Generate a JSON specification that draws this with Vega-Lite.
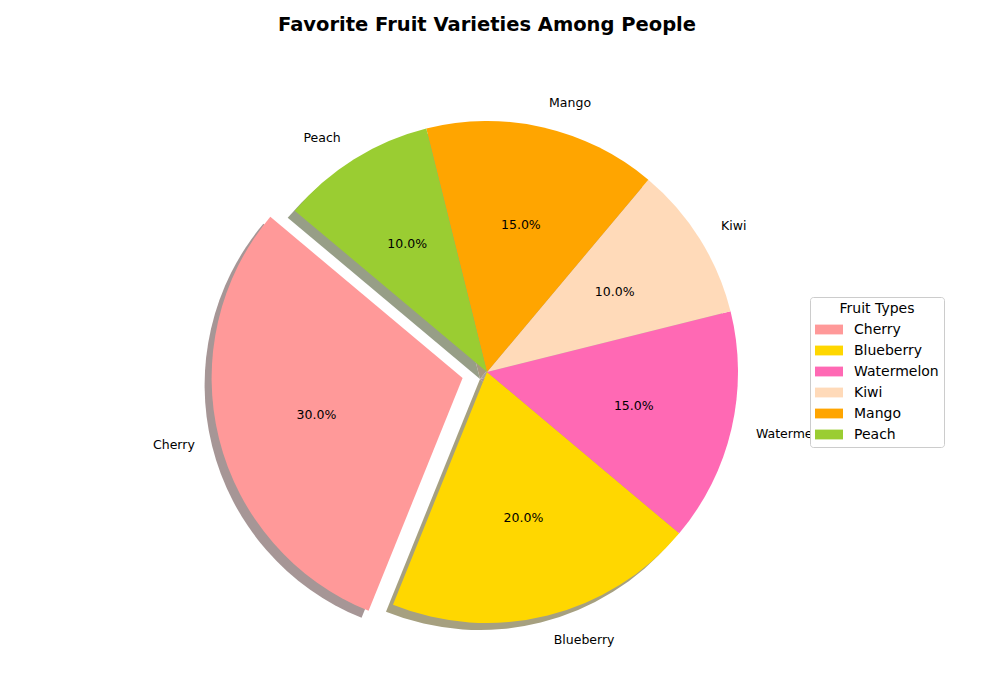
{
  "$schema": "https://vega.github.io/schema/vega-lite/v6.json",
  "width": 502,
  "height": 502,
  "autosize": {"type": "none"},
  "padding": {"left": 236, "top": 121, "right": 262, "bottom": 77},
  "background": "white",
  "config": {"view": {"stroke": null}, "font": "DejaVu Sans"},
  "title": {
    "text": "Favorite Fruit Varieties Among People",
    "fontSize": 19.5,
    "fontWeight": "bold",
    "font": "DejaVu Sans",
    "color": "black",
    "frame": "group",
    "anchor": "middle",
    "offset": 62
  },
  "data": {
    "values": [
      {"fruit": "Cherry", "share": 30, "idx": 1, "pct": "30.0%"},
      {"fruit": "Blueberry", "share": 20, "idx": 2, "pct": "20.0%"},
      {"fruit": "Watermelon", "share": 15, "idx": 3, "pct": "15.0%"},
      {"fruit": "Kiwi", "share": 10, "idx": 4, "pct": "10.0%"},
      {"fruit": "Mango", "share": 15, "idx": 5, "pct": "15.0%"},
      {"fruit": "Peach", "share": 10, "idx": 6, "pct": "10.0%"}
    ]
  },
  "encoding": {
    "theta": {"field": "share", "type": "quantitative", "stack": true, "scale": {"range": [-0.87266, 5.41052]}},
    "order": {"field": "idx", "type": "quantitative", "sort": "descending"}
  },
  "layer": [
    {
      "mark": {
        "type": "arc",
        "outerRadius": 251,
        "xOffset": {"expr": "datum.fruit == 'Cherry' ? -31.4 : -7"},
        "yOffset": {"expr": "datum.fruit == 'Cherry' ? 13.1 : 7"}
      },
      "encoding": {
        "color": {
          "field": "fruit",
          "type": "nominal",
          "legend": null,
          "scale": {
            "domain": ["Cherry", "Blueberry", "Watermelon", "Kiwi", "Mango", "Peach"],
            "range": ["#A69696", "#A6A080", "#A68F9B", "#A6A09B", "#A69880", "#979E87"]
          }
        }
      }
    },
    {
      "mark": {
        "type": "arc",
        "outerRadius": 251,
        "xOffset": {"expr": "datum.fruit == 'Cherry' ? -24.4 : 0"},
        "yOffset": {"expr": "datum.fruit == 'Cherry' ? 6.1 : 0"}
      },
      "encoding": {
        "color": {
          "field": "fruit",
          "type": "nominal",
          "sort": ["Cherry", "Blueberry", "Watermelon", "Kiwi", "Mango", "Peach"],
          "scale": {
            "domain": ["Cherry", "Blueberry", "Watermelon", "Kiwi", "Mango", "Peach"],
            "range": ["#FF9999", "#FFD700", "#FF69B4", "#FFDAB9", "#FFA500", "#9ACD32"]
          },
          "legend": {
            "title": "Fruit Types",
            "orient": "none",
            "legendX": 574,
            "legendY": 176,
            "padding": 5,
            "fillColor": "white",
            "strokeColor": "#cccccc",
            "cornerRadius": 3,
            "titleFont": "DejaVu Sans",
            "titleFontSize": 14,
            "titleFontWeight": "normal",
            "titleColor": "black",
            "titleAnchor": "middle",
            "titlePadding": 6.5,
            "labelFont": "DejaVu Sans",
            "labelFontSize": 14,
            "labelColor": "black",
            "labelOffset": 25,
            "symbolType": "M-1,-0.7H3V0.7H-1Z",
            "symbolSize": 196,
            "symbolStrokeWidth": 0,
            "symbolOpacity": 1,
            "rowPadding": 7
          }
        }
      }
    },
    {
      "mark": {
        "type": "text",
        "radius": 150.6,
        "fontSize": 12.5,
        "font": "DejaVu Sans",
        "color": "black",
        "align": "center",
        "baseline": "middle",
        "xOffset": {"expr": "datum.fruit == 'Cherry' ? -24.4 : 0"},
        "yOffset": {"expr": "datum.fruit == 'Cherry' ? 6.1 : 0"}
      },
      "encoding": {"text": {"field": "pct", "type": "nominal"}}
    },
    {
      "mark": {
        "type": "text",
        "radius": 276,
        "fontSize": 12.5,
        "font": "DejaVu Sans",
        "color": "black",
        "align": {"expr": "(datum.fruit == 'Cherry' || datum.fruit == 'Peach') ? 'right' : 'left'"},
        "baseline": "middle",
        "xOffset": {"expr": "datum.fruit == 'Cherry' ? -24.4 : 0"},
        "yOffset": {"expr": "datum.fruit == 'Cherry' ? 6.1 : 0"}
      },
      "encoding": {"text": {"field": "fruit", "type": "nominal"}}
    }
  ],
  "resolve": {"scale": {"color": "independent"}, "legend": {"color": "independent"}}
}
